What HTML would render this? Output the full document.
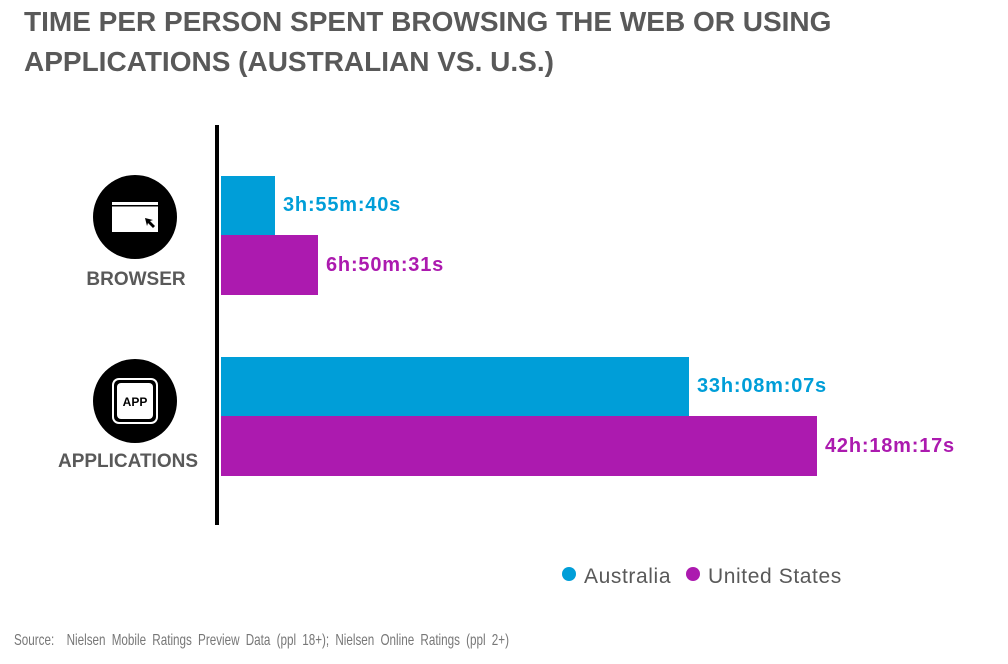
<!DOCTYPE html>
<html><head><style>
body{margin:0;width:1008px;height:664px;background:#fff;position:relative;overflow:hidden;font-family:"Liberation Sans",sans-serif}
.t{position:absolute;left:24px;top:2px;font-size:28px;font-weight:bold;color:#595959;line-height:40px;letter-spacing:0px}
.b{position:absolute;left:221px}
.l{position:absolute;font-weight:bold;font-size:20px;letter-spacing:0.8px}
.c{position:absolute;font-weight:bold;font-size:19px;color:#595959;text-align:center;width:200px}
</style></head><body>
<div class="t">TIME PER PERSON SPENT BROWSING THE WEB OR USING<br>APPLICATIONS (AUSTRALIAN VS. U.S.)</div>
<div style="position:absolute;left:215px;top:125px;width:4px;height:400px;background:#000"></div>
<div class="b" style="top:176px;width:54px;height:59px;background:#009ed8"></div>
<div class="b" style="top:235px;width:97px;height:60px;background:#ac1aaf"></div>
<div class="b" style="top:357px;width:468px;height:59px;background:#009ed8"></div>
<div class="b" style="top:416px;width:596px;height:60px;background:#ac1aaf"></div>
<div class="l" style="left:283px;top:194px;color:#009ed8">3h:55m:40s</div>
<div class="l" style="left:326px;top:254px;color:#ac1aaf">6h:50m:31s</div>
<div class="l" style="left:697px;top:375px;color:#009ed8">33h:08m:07s</div>
<div class="l" style="left:825px;top:435px;color:#ac1aaf">42h:18m:17s</div>
<svg style="position:absolute;left:0;top:0" width="1008" height="664">
<circle cx="135" cy="217" r="42" fill="#000"/>
<rect x="112" y="202" width="46" height="30" fill="#fff"/>
<rect x="112" y="205" width="46" height="1.5" fill="#000"/>
<path d="M145 218 L153 220 L150 221 L155 226 L153 228 L148 223 L147 226 Z" fill="#000"/>
<circle cx="135" cy="401" r="42" fill="#000"/>
<rect x="113" y="379" width="44" height="44" rx="6" fill="none" stroke="#fff" stroke-width="2"/>
<rect x="117" y="383" width="36" height="36" rx="4" fill="#fff"/>
<text x="135" y="406" font-family="Liberation Sans" font-weight="bold" font-size="12" text-anchor="middle">APP</text>
<circle cx="569" cy="574" r="7" fill="#009ed8"/>
<circle cx="693" cy="574" r="7" fill="#ac1aaf"/>
</svg>
<div class="c" style="left:36px;top:269px">BROWSER</div>
<div class="c" style="left:28px;top:451px">APPLICATIONS</div>
<div style="position:absolute;left:584px;top:565px;font-size:21px;color:#595959;letter-spacing:0.6px">Australia</div>
<div style="position:absolute;left:708px;top:565px;font-size:21px;color:#595959;letter-spacing:0.6px">United States</div>
<div style="position:absolute;left:14px;top:632px;font-size:16px;color:#777;transform:scaleX(0.73);transform-origin:left;word-spacing:4px;white-space:nowrap">Source:&nbsp; Nielsen Mobile Ratings Preview Data (ppl 18+); Nielsen Online Ratings (ppl 2+)</div>
</body></html>
